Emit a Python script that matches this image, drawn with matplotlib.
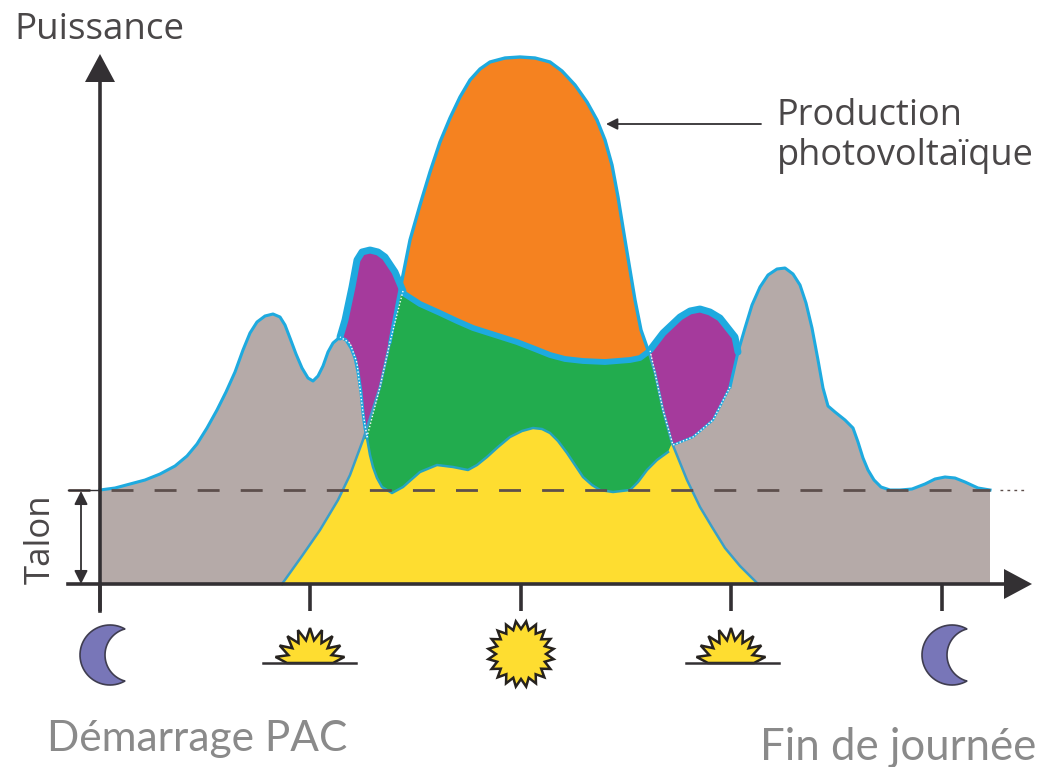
import numpy as np
import matplotlib
matplotlib.use("Agg")
import matplotlib.pyplot as plt
from matplotlib.patches import FancyArrowPatch

# courbes (x, y en pixels de l'image)
conso_left_x = [100, 115, 130, 145, 160, 175, 187, 197, 207, 217, 226, 235, 243, 250, 257, 265, 273, 280, 285, 290, 296, 302, 308, 313, 318, 323, 328, 333, 340, 346, 351, 355, 358, 361, 363, 365, 367]
conso_left_y = [490, 488, 484, 480, 474, 466, 456, 444, 428, 410, 392, 372, 350, 333, 322, 316, 314, 317, 325, 338, 354, 368, 378, 381, 376, 366, 352, 343, 337, 340, 348, 358, 372, 392, 413, 428, 437]
conso_right_x = [673, 693, 713, 730, 738, 745, 752, 760, 768, 777, 785, 793, 800, 806, 812, 818, 823, 828, 835, 845, 853, 858, 863, 868, 874, 881, 890, 900, 912, 925, 935, 945, 955, 965, 978, 990]
conso_right_y = [445, 437, 420, 387, 352, 328, 305, 287, 275, 269, 268, 274, 285, 303, 328, 360, 388, 406, 412, 420, 428, 442, 458, 470, 480, 487, 490, 490, 489, 484, 479, 477, 478, 482, 488, 490]

prod_up_x = [282, 302, 320, 338, 350, 363, 372, 380, 390, 398, 410, 420, 430, 440, 450, 460, 470, 480, 490, 505, 520, 535, 550, 562, 575, 587, 597, 605, 612, 618, 625, 630, 635, 641, 648]
prod_up_y = [584, 556, 530, 500, 475, 440, 412, 387, 342, 300, 240, 205, 172, 142, 118, 97, 80, 69, 62, 58, 57, 58, 62, 71, 85, 102, 120, 140, 165, 197, 240, 270, 300, 330, 350]
prod_down_x = [648, 655, 663, 672, 687, 700, 712, 725, 740, 758]
prod_down_y = [350, 373, 410, 443, 480, 507, 527, 548, 566, 584]

autoconso_x = [403, 420, 440, 457, 473, 495, 517, 535, 550, 565, 583, 605, 630, 640, 648]
autoconso_y = [293, 304, 313, 321, 328, 335, 342, 349, 355, 359, 361, 362, 360, 358, 352]

base_x = [367, 370, 373, 377, 382, 392, 403, 412, 420, 437, 453, 468, 477, 487, 498, 510, 522, 533, 542, 550, 558, 567, 575, 583, 592, 600, 613, 630, 638, 647, 657, 668]
base_y = [438, 455, 467, 478, 487, 493, 487, 479, 472, 465, 467, 470, 465, 457, 447, 437, 431, 428, 429, 433, 441, 453, 465, 477, 485, 490, 492, 490, 482, 470, 460, 452]

violet_left_x = [340, 345, 352, 357, 362, 370, 378, 385, 395, 403]
violet_left_y = [337, 320, 287, 260, 252, 250, 252, 257, 272, 291]
violet_right_x = [650, 663, 680, 690, 700, 710, 720, 735, 738]
violet_right_y = [350, 333, 317, 311, 309, 312, 318, 337, 352]

tick_x = [100, 310, 521, 731, 942]
talon_y = 490
axis_y = 584

GRIS = "#b5aaa8"
ORANGE = "#f58220"
VERT = "#22ac4e"
JAUNE = "#fedd30"
VIOLET = "#a53a9c"
BLEU = "#1eaadf"
BLEU_FIN = "#3a9fca"
NOIR = "#333033"


def draw_moon(ax, x_left, yc):
    # croissant : arc extérieur + arc intérieur qui se rejoignent aux pointes
    a = np.radians(np.linspace(60, 300, 50))
    xo = x_left + 30 + 30 * np.cos(a)
    yo = yc + 30 * np.sin(a)
    t = np.radians(np.linspace(-75, 75, 40))
    xi = x_left + 52 - 27 * np.cos(t)
    yi = yc + 27 * np.sin(t)
    ax.fill(np.r_[xo, xi], np.r_[yo, yi], facecolor="#7876b8", edgecolor="#3f3d50", lw=1.2, zorder=6)


def draw_sun(ax, cx, cy, r_out, r_in, n, half=False):
    start, stop = (np.pi, 2 * np.pi) if half else (0, 2 * np.pi)
    a = np.linspace(start, stop, 2 * n + 1)
    r = np.where(np.arange(2 * n + 1) % 2 == 1, r_out, r_in)
    ax.fill(cx + r * np.cos(a), cy + r * np.sin(a), facecolor=JAUNE, edgecolor="#26221e", lw=1.8, joinstyle="miter", zorder=6)


def main():
    plt.rcParams["font.family"] = ["Open Sans", "DejaVu Sans"]
    fig = plt.figure(figsize=(10.43, 7.67), dpi=100)
    ax = fig.add_axes([0, 0, 1, 1])
    ax.set_xlim(0, 1043)
    ax.set_ylim(767, 0)
    ax.axis("off")

    # aplats
    ax.fill([100] + conso_left_x + conso_right_x + [990, 100],
            [talon_y] + conso_left_y + conso_right_y + [axis_y, axis_y],
            color=GRIS, lw=0, zorder=1)
    vlx = violet_left_x + [403, 390, 380, 367, 363, 357, 350, 340]
    vly = violet_left_y + [291, 342, 387, 437, 413, 363, 343, 337]
    ax.fill(vlx, vly, color=VIOLET, lw=0, zorder=2)
    vrx = violet_right_x + conso_right_x[3::-1] + [663, 655, 650]
    vry = violet_right_y + conso_right_y[3::-1] + [410, 373, 350]
    ax.fill(vrx, vry, color=VIOLET, lw=0, zorder=2)

    ax.fill(prod_up_x + prod_down_x, prod_up_y + prod_down_y, color=JAUNE, lw=0, zorder=2.5)
    ax.fill(prod_up_x[9:] + autoconso_x[::-1], prod_up_y[9:] + autoconso_y[::-1], color=ORANGE, lw=0, zorder=3)
    ax.fill(autoconso_x + prod_down_x[:4] + base_x[::-1] + prod_up_x[5:10],
            autoconso_y + prod_down_y[:4] + base_y[::-1] + prod_up_y[5:10],
            color=VERT, lw=0, zorder=3)

    # contours bleus
    ax.plot(conso_left_x, conso_left_y, color=BLEU, lw=2.2, zorder=5, solid_joinstyle="round")
    ax.plot(conso_right_x[3:], conso_right_y[3:], color=BLEU, lw=2.2, zorder=5, solid_joinstyle="round")
    ax.plot(conso_right_x[:4], conso_right_y[:4], color=BLEU, lw=1.6, zorder=5)
    ax.plot(prod_up_x[:9], prod_up_y[:9], color=BLEU_FIN, lw=1.8, zorder=5, solid_joinstyle="round")
    ax.plot(prod_up_x[8:], prod_up_y[8:], color=BLEU, lw=2.4, zorder=5, solid_joinstyle="round")
    ax.plot(prod_down_x, prod_down_y, color=BLEU_FIN, lw=1.8, zorder=5, solid_joinstyle="round")
    ax.plot(base_x, base_y, color="#25a5c0", lw=1.8, zorder=5, solid_joinstyle="round")
    ax.plot(autoconso_x, autoconso_y, color=BLEU, lw=4.2, zorder=5, solid_capstyle="round")
    ax.plot(violet_left_x, violet_left_y, color=BLEU, lw=5, zorder=5, solid_capstyle="round")
    ax.plot(violet_right_x, violet_right_y, color=BLEU, lw=5, zorder=5, solid_capstyle="round")

    # liseré blanc pointillé autour des zones violettes
    ax.plot(vrx[9:], vry[9:], color="white", lw=1, ls=(0, (1, 1.5)), zorder=5.2)
    ax.plot(vlx[10:], vly[10:], color="white", lw=1, ls=(0, (1, 1.5)), zorder=5.2)

    # talon en pointillés
    ax.plot([68, 990], [talon_y, talon_y], color="#5d4f4c", lw=2, ls=(0, (7.9, 7.6)), zorder=5.5)
    ax.plot([1000, 1025], [talon_y, talon_y], color="#5d4f4c", lw=1, ls=(0, (2, 3)), zorder=5.5)

    # axes et graduations
    ax.vlines(tick_x, axis_y, 611, color=NOIR, lw=2.6, zorder=6)
    ax.plot([100, 100], [611, 70], color=NOIR, lw=2.6, zorder=6)
    ax.plot([68, 1015], [axis_y, axis_y], color=NOIR, lw=2.6, zorder=6)
    ax.fill([100, 85, 115], [54, 82, 82], color=NOIR, lw=0, zorder=6)
    ax.fill([1032, 1004, 1004], [584, 569, 599], color=NOIR, lw=0, zorder=6)

    # talon : double flèche
    ax.plot([68, 100], [talon_y, talon_y], color=NOIR, lw=1, zorder=6)
    ax.add_patch(FancyArrowPatch((81, 491), (81, 584), arrowstyle="<|-|>", mutation_scale=20,
                                 color=NOIR, lw=1.3, shrinkA=0, shrinkB=0, zorder=6))

    # annotation production
    ax.add_patch(FancyArrowPatch((761, 124), (606, 124), arrowstyle="-|>", mutation_scale=17,
                                 color=NOIR, lw=1.3, shrinkA=0, shrinkB=0, zorder=6))

    # icônes
    draw_moon(ax, 80, 655)
    draw_moon(ax, 922, 655)
    draw_sun(ax, 310, 663, 35, 23, 9, half=True)
    draw_sun(ax, 731, 663, 35, 23, 9, half=True)
    draw_sun(ax, 521, 654, 33, 25, 20)
    ax.plot([263, 356], [663, 663], color=NOIR, lw=1.8, zorder=7)
    ax.plot([686, 779], [663, 663], color=NOIR, lw=1.8, zorder=7)

    # textes
    ax.text(14, 30, "Puissance", fontsize=26.5, color="#4a4748", va="center", ha="left")
    ax.text(777, 116, "Production", fontsize=26, color="#4a4748", va="center", ha="left")
    ax.text(777, 156, "photovoltaïque", fontsize=26, color="#4a4748", va="center", ha="left")
    ax.text(41, 539, "Talon", fontsize=25, color="#4a4748", rotation=90, va="center", ha="center")
    ax.text(47, 739, "Démarrage PAC", fontsize=30.5, color="#8a8a8a", va="center", ha="left",
            family=["Lato", "DejaVu Sans"])
    ax.text(760, 748, "Fin de journée", fontsize=31.5, color="#8a8a8a", va="center", ha="left",
            family=["Lato", "DejaVu Sans"])

    fig.savefig("out.png", dpi=100)


if __name__ == "__main__":
    main()
